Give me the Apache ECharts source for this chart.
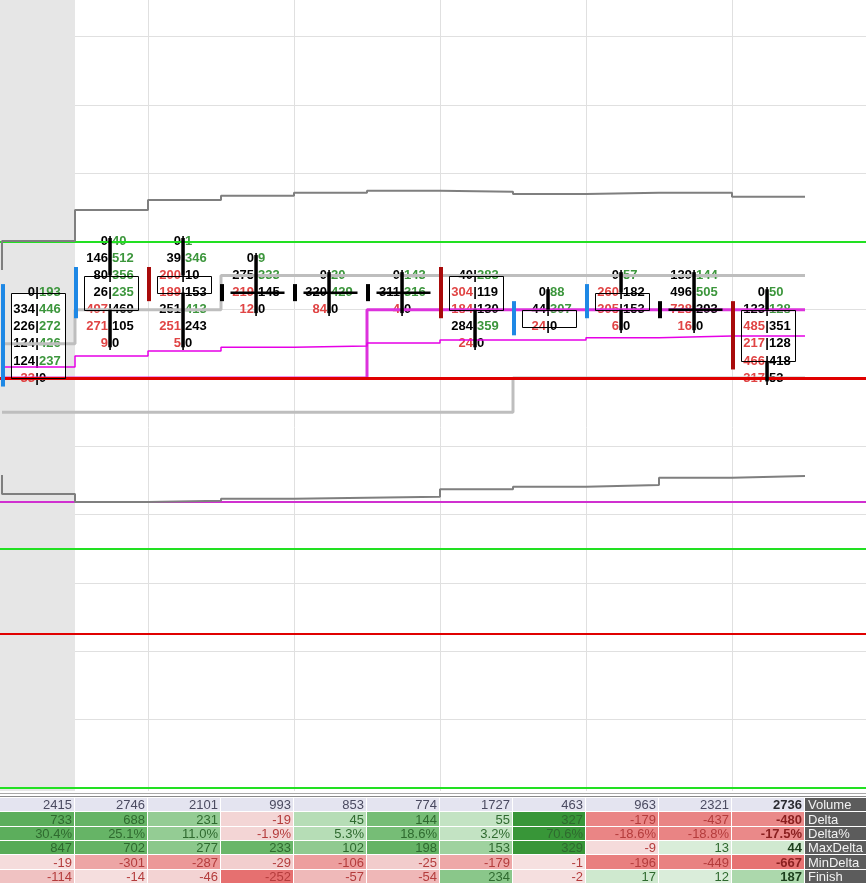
<!DOCTYPE html>
<html><head><meta charset="utf-8">
<script src="https://cdn.jsdelivr.net/npm/echarts@6/dist/echarts.min.js"></script>
<style>html,body{margin:0;padding:0;background:#fff}#c{width:866px;height:884px}</style>
</head><body><div id="c"></div>
<script>
// ---------- DATA (price levels as tick indices) ----------
const levelLow = [0, 2, 2, 4, 4, 4, 2, 3, 3, 3, 0];
const opens    = [0, 4, 6, 5, 5, 5, 6, 3, 4, 4, 4];
const closes   = [5, 6, 5, 5, 5, 5, 4, 4, 5, 4, 1];
// bid|ask per level, from low level upward
const bids = [
  [33, 124, 124, 226, 334, 0],
  [9, 271, 497, 26, 80, 146, 0],
  [5, 251, 251, 189, 200, 39, 0],
  [12, 219, 275, 0],
  [84, 320, 0],
  [4, 311, 0],
  [24, 284, 184, 304, 40],
  [24, 44, 0],
  [6, 305, 260, 0],
  [16, 728, 496, 139],
  [317, 466, 217, 485, 123, 0]
];
const asks = [
  [0, 237, 426, 272, 446, 193],
  [0, 105, 469, 235, 356, 512, 40],
  [0, 243, 413, 153, 10, 346, 1],
  [0, 145, 333, 9],
  [0, 429, 20],
  [0, 316, 143],
  [0, 359, 130, 119, 283],
  [0, 307, 88],
  [0, 153, 182, 57],
  [0, 293, 505, 144],
  [53, 418, 128, 351, 128, 50]
];
// step lines: value before first column, then one value per column
const upperBandPrev = 6.32;
const upperBand = [8.02, 9.84, 10.42, 10.68, 10.85, 10.97, 10.91, 10.78, 10.85, 10.85, 10.62];
const lowerBandPrev = -5.68;
const lowerBand = [-6.79, -7.26, -7.19, -7.07, -7.01, -6.95, -6.52, -6.37, -6.27, -5.84, -5.74];
const vah = [2, 4, 4, 6, 6, 6, 6, 6, 6, 6, 6];
const val = [-2, -2, -2, -2, -2, -2, -2, 0, 0, 0, 0];
const poc = [0, 0, 0, 0, 0, 4, 4, 4, 4, 4, 4];
const vwap = [0.64, 1.29, 1.58, 1.80, 1.87, 2.05, 2.23, 2.23, 2.36, 2.46, 2.46];
const greenLevels = [8, -10, -24];
const redLevels = [0, -15];
const magentaLevels = [-7.22];
// table
const rowLabels = ['Volume', 'Delta', 'Delta%', 'MaxDelta', 'MinDelta', 'Finish'];
const volume   = [2415, 2746, 2101, 993, 853, 774, 1727, 463, 963, 2321, 2736];
const delta    = [733, 688, 231, -19, 45, 144, 55, 327, -179, -437, -480];
const deltaPct = [30.4, 25.1, 11.0, -1.9, 5.3, 18.6, 3.2, 70.6, -18.6, -18.8, -17.5];
const maxDelta = [847, 702, 277, 233, 102, 198, 153, 329, -9, 13, 44];
const minDelta = [-19, -301, -287, -29, -106, -25, -179, -1, -196, -449, -667];
const finish   = [-114, -14, -46, -252, -57, -54, 234, -2, 17, 12, 187];

// ---------- STYLE ----------
const ROW_PX = 17.075;
const FONT = 'bold 13px "Liberation Sans", Arial, sans-serif';
const TXT_RED = '#e04444', TXT_GREEN = '#3c963c', TXT_BLACK = '#000';
const BODY_HALF = 0.37;

function stepData(prev, vals) {
  return [[0, prev]].concat(vals.map((v, k) => [k + 1, v]));
}
function stepSeries(prev, vals, color, width, z) {
  return {type: 'line', step: 'start', data: stepData(prev, vals), symbol: 'none', silent: true,
    lineStyle: {color, width}, z, xAxisIndex: 0, yAxisIndex: 0, animation: false};
}
function hLines(levels, color, width, z) {
  return {type: 'line', data: [], xAxisIndex: 0, yAxisIndex: 0, z, silent: true,
    markLine: {symbol: ['none', 'none'], silent: true, animation: false, label: {show: false},
      lineStyle: {color, width, type: 'solid'}, emphasis: {disabled: true},
      data: levels.map(l => ({yAxis: l}))}};
}

function bodyFill(params, api) {
  const i = params.dataIndex, o = opens[i], c = closes[i];
  if (o === c) return null;
  const p1 = api.coord([i + 0.5 - BODY_HALF, Math.max(o, c)]);
  const p2 = api.coord([i + 0.5 + BODY_HALF, Math.min(o, c)]);
  return {type: 'rect', shape: {x: p1[0], y: p1[1], width: p2[0] - p1[0], height: p2[1] - p1[1]}, style: {fill: '#fff'}};
}
function footprintText(params, api) {
  const i = params.dataIndex;
  const cx = api.coord([i + 0.48, 0])[0];
  const children = [];
  for (let k = 0; k < bids[i].length; k++) {
    const y = api.coord([0, levelLow[i] + k])[1];
    const b = bids[i][k], a = asks[i][k];
    children.push({type: 'text', style: {text: String(b), x: cx - 2, y, align: 'right', verticalAlign: 'middle', fill: b > a ? TXT_RED : TXT_BLACK, font: FONT}});
    children.push({type: 'text', style: {text: '|', x: cx, y, align: 'center', verticalAlign: 'middle', fill: TXT_BLACK, font: FONT}});
    children.push({type: 'text', style: {text: String(a), x: cx + 2, y, align: 'left', verticalAlign: 'middle', fill: a > b ? TXT_GREEN : TXT_BLACK, font: FONT}});
  }
  return {type: 'group', children};
}
function candleShape(params, api) {
  const i = params.dataIndex, o = opens[i], c = closes[i];
  const low = levelLow[i], high = low + bids[i].length - 1;
  const hi = Math.max(o, c), lo = Math.min(o, c);
  const children = [];
  const cx = api.coord([i + 0.48, 0])[0];
  const colStart = api.coord([i, 0])[0];
  const barColor = c > o ? '#1e88e5' : (c < o ? '#a80a0a' : '#000');
  const by1 = api.coord([0, hi + 0.5])[1], by2 = api.coord([0, lo - 0.5])[1];
  children.push({type: 'rect', shape: {x: colStart - 1, y: by1, width: 4, height: by2 - by1}, style: {fill: barColor}});
  if (high > hi) {
    const y1 = api.coord([0, high + 0.2])[1], y2 = api.coord([0, hi])[1];
    children.push({type: 'line', shape: {x1: cx, y1, x2: cx, y2}, style: {stroke: '#000', lineWidth: 3.5}});
  }
  if (low < lo) {
    const y1 = api.coord([0, lo])[1], y2 = api.coord([0, low - 0.2])[1];
    children.push({type: 'line', shape: {x1: cx, y1, x2: cx, y2}, style: {stroke: '#000', lineWidth: 3.5}});
  }
  if (o === c) {
    const p1 = api.coord([i + 0.5 - BODY_HALF, o]), p2 = api.coord([i + 0.5 + BODY_HALF, o]);
    children.push({type: 'line', shape: {x1: p1[0], y1: p1[1], x2: p2[0], y2: p2[1]}, style: {stroke: '#000', lineWidth: 2.5}});
  } else {
    const p1 = api.coord([i + 0.5 - BODY_HALF, hi]), p2 = api.coord([i + 0.5 + BODY_HALF, lo]);
    children.push({type: 'rect', shape: {x: Math.round(p1[0]) + 0.5, y: Math.round(p1[1]) + 0.5, width: Math.round(p2[0] - p1[0]), height: Math.round(p2[1] - p1[1])}, style: {fill: 'none', stroke: '#000', lineWidth: 1}});
  }
  return {type: 'group', children};
}

// ---------- TABLE ----------
const GREEN_STOPS = [[0, [222, 239, 222]], [0.03, [196, 228, 196]], [0.1, [152, 206, 152]], [0.2, [112, 186, 112]], [0.3, [92, 174, 92]], [0.7, [56, 150, 56]]];
const RED_STOPS = [[0, [246, 226, 226]], [0.02, [243, 212, 212]], [0.05, [240, 192, 192]], [0.1, [238, 170, 170]], [0.15, [235, 145, 145]], [0.2, [233, 128, 128]], [0.25, [230, 112, 112]]];
function interp(stops, t) {
  if (t <= stops[0][0]) return stops[0][1];
  for (let k = 1; k < stops.length; k++) {
    if (t <= stops[k][0]) {
      const f = (t - stops[k - 1][0]) / (stops[k][0] - stops[k - 1][0]);
      return stops[k - 1][1].map((v, j) => Math.round(v + (stops[k][1][j] - v) * f));
    }
  }
  return stops[stops.length - 1][1];
}
function cellText(r, c) {
  return [String(volume[c]), String(delta[c]), deltaPct[c].toFixed(1) + '%', String(maxDelta[c]), String(minDelta[c]), String(finish[c])][r];
}
function cellRatio(r, c) {
  return [null, deltaPct[c] / 100, deltaPct[c] / 100, maxDelta[c] / volume[c], minDelta[c] / volume[c], finish[c] / volume[c]][r];
}
const tableData = [];
for (let r = 0; r < rowLabels.length; r++) for (let c = 0; c <= volume.length; c++) tableData.push([c, r]);

function tableCell(params, api) {
  const c = api.value(0), r = api.value(1);
  const p1 = api.coord([c, r]), p2 = api.coord([c + 1, r + 1]);
  const x = c === 0 ? 0 : Math.round(p1[0]), y = Math.round(p1[1]);
  const w = Math.round(p2[0]) - x - 1, h = Math.round(p2[1]) - y - 1;
  const children = [];
  if (c === volume.length) {
    children.push({type: 'rect', shape: {x, y, width: w + 1, height: h}, style: {fill: '#5c5c5c'}});
    children.push({type: 'text', style: {text: rowLabels[r], x: x + 3, y: y + h / 2 + 1, align: 'left', verticalAlign: 'middle', fill: '#f2f2f2', font: '13px "Liberation Sans", Arial, sans-serif'}});
    return {type: 'group', children};
  }
  const ratio = cellRatio(r, c);
  let bg, fg;
  const last = c === volume.length - 1;
  if (ratio === null) { bg = 'rgb(228,228,240)'; fg = last ? '#2a2a30' : '#4a4a60'; }
  else if (ratio >= 0) { bg = 'rgb(' + interp(GREEN_STOPS, ratio).join(',') + ')'; fg = last ? '#1c3f1c' : '#2f6a2f'; }
  else { bg = 'rgb(' + interp(RED_STOPS, -ratio).join(',') + ')'; fg = last ? '#8a1f1f' : '#b43c3c'; }
  children.push({type: 'rect', shape: {x, y, width: w, height: h}, style: {fill: bg}});
  children.push({type: 'text', style: {text: cellText(r, c), x: x + w - 2, y: y + h / 2 + 1, align: 'right', verticalAlign: 'middle', fill: fg,
    font: (last ? 'bold ' : '') + '13px "Liberation Sans", Arial, sans-serif'}});
  return {type: 'group', children};
}
function tableHeader(params, api) {
  const top = api.coord([0, 0])[1];
  return {type: 'group', children: [
    {type: 'rect', shape: {x: 0, y: top - 7, width: 866, height: 100}, style: {fill: '#fff'}},
    {type: 'line', shape: {x1: 0, y1: top - 4.5, x2: 866, y2: top - 4.5}, style: {stroke: '#a8a8a8', lineWidth: 1}},
    {type: 'line', shape: {x1: 0, y1: top - 1.5, x2: 866, y2: top - 1.5}, style: {stroke: '#8a8a8a', lineWidth: 1}}
  ]};
}

const candleData = bids.map((_, i) => [i, levelLow[i]]);
const chart = echarts.init(document.getElementById('c'), null, {renderer: 'canvas'});
chart.setOption({
  animation: false,
  backgroundColor: '#fff',
  grid: [
    {left: -144, width: 1022, top: 378 - 24 * ROW_PX, height: 52 * ROW_PX, outerBoundsMode: 'none', containLabel: false},
    {left: -144, width: 1022, top: 798, height: 86, outerBoundsMode: 'none', containLabel: false}
  ],
  xAxis: [
    {type: 'value', gridIndex: 0, min: -2, max: 12, interval: 2, axisLine: {show: false}, axisTick: {show: false}, axisLabel: {show: false},
      splitLine: {show: true, lineStyle: {color: '#e0e0e0', width: 1}}},
    {type: 'value', gridIndex: 1, min: -2, max: 12, show: false, splitLine: {show: false}}
  ],
  yAxis: [
    {type: 'value', gridIndex: 0, min: -28, max: 24, interval: 4, axisLine: {show: false}, axisTick: {show: false}, axisLabel: {show: false},
      splitLine: {show: true, lineStyle: {color: '#e0e0e0', width: 1}}},
    {type: 'value', gridIndex: 1, min: 0, max: 6, inverse: true, show: false, splitLine: {show: false}}
  ],
  series: [
    {type: 'line', data: [], xAxisIndex: 0, yAxisIndex: 0, z: 1, silent: true,
      markArea: {silent: true, itemStyle: {color: '#e6e6e6'}, data: [[{xAxis: -2}, {xAxis: 1}]]}},
    {type: 'custom', renderItem: bodyFill, data: candleData, xAxisIndex: 0, yAxisIndex: 0, z: 2, silent: true},
    {type: 'custom', renderItem: footprintText, data: candleData, xAxisIndex: 0, yAxisIndex: 0, z: 3, silent: true},
    stepSeries(vah[0], vah, '#bebebe', 3, 4),
    stepSeries(val[0], val, '#bebebe', 3, 4),
    stepSeries(poc[0], poc, '#dc32dc', 3, 4),
    stepSeries(vwap[0], vwap, '#e600e6', 1.5, 4),
    hLines(magentaLevels, '#d030d0', 2, 5),
    hLines(greenLevels, '#22e022', 2, 5),
    hLines([redLevels[0]], '#e00000', 3, 5),
    hLines([redLevels[1]], '#e00000', 2, 5),
    stepSeries(upperBandPrev, upperBand, '#7f7f7f', 2, 6),
    stepSeries(lowerBandPrev, lowerBand, '#7f7f7f', 2, 6),
    {type: 'custom', renderItem: candleShape, data: candleData, xAxisIndex: 0, yAxisIndex: 0, z: 7, silent: true},
    {type: 'custom', renderItem: tableHeader, data: [[0, 0]], xAxisIndex: 1, yAxisIndex: 1, z: 8, silent: true},
    {type: 'custom', renderItem: tableCell, data: tableData, xAxisIndex: 1, yAxisIndex: 1, z: 9, silent: true}
  ]
});
</script></body></html>
